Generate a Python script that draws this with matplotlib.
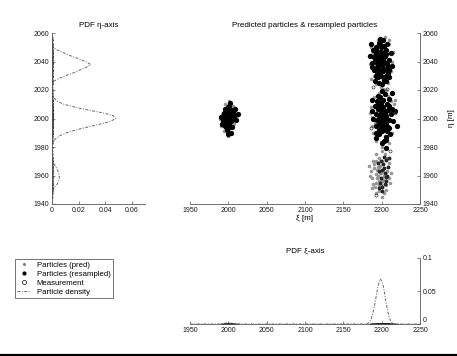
import matplotlib
matplotlib.use("Agg")
import matplotlib.pyplot as plt
from matplotlib.lines import Line2D

plt.rcParams['font.family'] = ['Liberation Sans', 'DejaVu Sans']
plt.rcParams['font.size'] = 5

# ---- particle clouds (xi, eta) in metres ----
res_A_xi  = [2000, 1997, 2003, 1999, 2002, 1995, 2005, 2000, 1998, 2003, 1994, 2006, 1997, 2001, 1999,
             2004, 1996, 2005, 2001, 1993, 2007, 1998, 2002, 2000, 1996, 2004, 2008, 1999, 2002,
             1991, 2010, 2012, 1992, 2009, 2001, 1997]
res_A_eta = [2000, 1998, 2002, 2005, 1995, 2001, 1999, 2008, 1992, 1990, 2004, 2004, 2003, 1997, 2002,
             2006, 1995, 1994, 2009, 1998, 2001, 1996, 2004, 1993, 2007, 1998, 2003, 1989, 2011,
             2001, 1999, 2003, 1996, 2007, 2001, 1994]

res_B_xi  = [2199, 2194, 2204, 2197, 2202, 2191, 2207, 2199, 2195, 2203, 2187, 2210, 2193, 2201, 2197,
             2205, 2190, 2208, 2196, 2202, 2189, 2212, 2194, 2204, 2199, 2185, 2213, 2195, 2203, 2192,
             2200, 2197, 2207, 2191, 2209, 2186, 2201, 2196, 2205, 2193, 2198, 2202, 2188, 2210, 2194,
             2200, 2206, 2192, 2197, 2203, 2190, 2208, 2196, 2201, 2199, 2204, 2193, 2198, 2206, 2200]
res_B_eta = [2040, 2036, 2044, 2047, 2033, 2042, 2038, 2050, 2029, 2027, 2039, 2041, 2045, 2037, 2043,
             2048, 2034, 2032, 2053, 2055, 2048, 2046, 2031, 2035, 2030, 2044, 2037, 2041, 2040, 2050,
             2046, 2034, 2052, 2026, 2029, 2052, 2024, 2038, 2030, 2048, 2056, 2042, 2036, 2034, 2039,
             2033, 2045, 2047, 2025, 2051, 2043, 2037, 2032, 2044, 2047, 2039, 2030, 2052, 2026, 2041]

res_C_xi  = [2201, 2196, 2206, 2199, 2204, 2193, 2209, 2201, 2197, 2205, 2189, 2212, 2195, 2203, 2199,
             2207, 2192, 2210, 2198, 2204, 2191, 2214, 2196, 2206, 2201, 2187, 2215, 2197, 2205, 2194,
             2202, 2199, 2209, 2193, 2211, 2188, 2203, 2198, 2207, 2195, 2217, 2220, 2214, 2205, 2200,
             2204, 2208, 2194, 2199, 2205, 2192, 2210, 2198, 2203, 2201, 2206, 2195, 2200, 2208, 2202]
res_C_eta = [2001, 1997, 2005, 2009, 1993, 2003, 1999, 2012, 1989, 1987, 2000, 2003, 2007, 1998, 2004,
             2010, 1995, 1993, 2015, 2017, 2009, 2007, 1992, 1996, 1991, 2005, 1998, 2002, 2001, 2012,
             2008, 1995, 2014, 1986, 1989, 2013, 1984, 1999, 1991, 2010, 2005, 1995, 2018, 1979, 2019,
             2003, 2006, 1999, 2011, 1985, 1990, 2009, 2001, 1996, 1983, 2002, 2016, 2007, 1994, 2013]

res_D_xi  = [2203, 2199, 2205, 2201, 2196, 2207, 2202, 2198, 2204, 2200, 2206, 2195, 2203, 2208, 2197,
             2205, 2201, 2209, 2199, 2204]
res_D_eta = [1965, 1958, 1971, 1952, 1963, 1960, 1968, 1955, 1962, 1949, 1956, 1969, 1973, 1966, 1951,
             1959, 1964, 1972, 1970, 1954]

pred_xi  = [1992, 2008, 1996, 2004, 1991, 2009, 2000, 2001, 1994, 2006, 1989, 2011,
            2186, 2190, 2210, 2213, 2185, 2195, 2204, 2192, 2208, 2199, 2188, 2212, 2194, 2202, 2197,
            2206, 2191, 2203, 2186, 2209, 2183, 2215,
            2188, 2190, 2212, 2214, 2186, 2196, 2206, 2193, 2209, 2200, 2189, 2216, 2194, 2204, 2198,
            2210, 2191, 2208, 2187, 2202, 2185, 2218,
            2190, 2193, 2196, 2199, 2202, 2205, 2188, 2192, 2195, 2198, 2201, 2204, 2207, 2210, 2189,
            2194, 2197, 2200, 2203, 2206, 2209, 2191, 2196, 2199, 2202, 2186, 2212, 2193, 2207, 2200,
            2185, 2190, 2194, 2197, 2201, 2188, 2192, 2196, 2211, 2184, 2203, 2195, 2198, 2193, 2189]
pred_eta = [2003, 1996, 2010, 1990, 1995, 2006, 1988, 2012, 1991, 2009, 2000, 2002,
            2050, 2030, 2052, 2040, 2038, 2055, 2057, 2024, 2025, 2022, 2045, 2033, 2034, 2049, 2043,
            2043, 2043, 2026, 2028, 2055, 2044, 2047,
            1995, 2015, 2012, 1990, 2008, 2018, 2020, 1984, 1983, 1980, 1990, 2010, 2006, 1988, 2006,
            2000, 1997, 2016, 2001, 2021, 2004, 2013,
            1965, 1955, 1972, 1962, 1957, 1950, 1958, 1948, 1960, 1967, 1945, 1975, 1963, 1969, 1970,
            1964, 1956, 1970, 1960, 1953, 1958, 1952, 1949, 1953, 1964, 1963, 1962, 1975, 1972, 1977,
            1960, 1968, 1958, 1966, 1956, 1951, 1961, 1953, 1955, 1967, 1948, 1966, 1962, 1970, 1954]

meas_xi  = [2214, 2189, 2217, 2207, 2186, 2193, 2211]
meas_eta = [2046, 2022, 2004, 2021, 1993, 1946, 1977]

# ---- marginal densities ----
eta_grid = list(range(1940, 2061, 2))
eta_pdf = [0, 0, 0, 0, 0, 0.001, 0.002, 0.004, 0.005, 0.0055, 0.0055, 0.005, 0.004, 0.003, 0.0015,
           0.0005, 0, 0, 0, 0, 0, 0, 0.001, 0.003, 0.006, 0.011, 0.018, 0.027, 0.036, 0.044,
           0.048, 0.046, 0.038, 0.027, 0.017, 0.009, 0.004, 0.002, 0.001, 0, 0, 0, 0,
           0.001, 0.005, 0.010, 0.016, 0.021, 0.026, 0.029, 0.025, 0.020, 0.014, 0.009, 0.004, 0.001,
           0, 0, 0, 0, 0]

xi_grid = [1950, 1990, 2000, 2010, 2180, 2182, 2184, 2186, 2188, 2190, 2192, 2194, 2196, 2198, 2200,
           2202, 2204, 2206, 2208, 2210, 2212, 2214, 2216, 2218, 2250]
xi_pdf = [0, 0, 0.002, 0, 0, 0.001, 0.003, 0.007, 0.014, 0.024, 0.036, 0.050, 0.061, 0.068, 0.066,
          0.058, 0.045, 0.031, 0.019, 0.010, 0.004, 0.0015, 0.0005, 0, 0]

all_res_xi = res_A_xi + res_B_xi + res_C_xi + res_D_xi
all_res_eta = res_A_eta + res_B_eta + res_C_eta + res_D_eta

W, H = 457, 356
fig = plt.figure(figsize=(W / 100, H / 100), dpi=100)

def frac(x0, y_top, x1, y_bot):
    return [x0 / W, 1 - y_bot / H, (x1 - x0) / W, (y_bot - y_top) / H]

pdf_style = dict(color='0.4', lw=0.7, ls=(0, (3, 1.5, 1, 1.5)))
spine_col = '0.35'
title_fs = 5.8

# eta marginal
ax_l = fig.add_axes(frac(52, 33, 145, 204))
ax_l.plot(eta_pdf, eta_grid, **pdf_style)
ax_l.plot([0] * len(all_res_eta + pred_eta), all_res_eta + pred_eta, ls='none',
          marker='s', ms=1.2, mfc='0.15', mec='none')
ax_l.set_xlim(0, 0.07)
ax_l.set_ylim(1940, 2060)
ax_l.set_xticks([0, 0.02, 0.04, 0.06])
ax_l.set_xticklabels(['0', '0.02', '0.04', '0.06'])
ax_l.set_yticks(range(1940, 2061, 20))
ax_l.set_title('PDF η-axis', fontsize=title_fs, pad=4)

# main particle cloud
ax_m = fig.add_axes(frac(190, 33, 420, 204))
ax_m.plot(pred_xi, pred_eta, ls='none', marker='o', ms=2.6, mfc='0.55', mec='none', alpha=0.9)
ax_m.plot(res_A_xi + res_B_xi + res_C_xi, res_A_eta + res_B_eta + res_C_eta, ls='none',
          marker='o', ms=3.8, mfc='black', mec='none')
ax_m.plot(res_D_xi, res_D_eta, ls='none', marker='o', ms=2.8, mfc='0.15', mec='none')
ax_m.plot(meas_xi, meas_eta, ls='none', marker='o', ms=2.2, mfc='none', mec='0.2', mew=0.5)
ax_m.set_xlim(1950, 2250)
ax_m.set_ylim(1940, 2060)
ax_m.set_xticks(range(1950, 2251, 50))
ax_m.set_yticks(range(1940, 2061, 20))
ax_m.yaxis.tick_right()
ax_m.yaxis.set_label_position('right')
ax_m.set_xlabel('ξ [m]', fontsize=title_fs, labelpad=1)
ax_m.set_ylabel('η [m]', fontsize=title_fs, labelpad=7)
ax_m.set_title('Predicted particles & resampled particles', fontsize=title_fs, pad=4)

# xi marginal
ax_b = fig.add_axes(frac(190, 258, 420, 324))
ax_b.plot(xi_grid, xi_pdf, **pdf_style)
ax_b.plot(all_res_xi, [0] * len(all_res_xi), ls='none', marker='s', ms=1.2, mfc='0.15', mec='none')
ax_b.set_xlim(1950, 2250)
ax_b.set_ylim(0, 0.1)
ax_b.set_xticks(range(1950, 2251, 50))
ax_b.set_yticks([0, 0.05, 0.1])
ax_b.set_yticklabels(['0', '0.05', '0.1'])
ax_b.yaxis.tick_right()
ax_b.set_title('PDF ξ-axis', fontsize=title_fs, pad=4)

for ax, keep in ((ax_l, ('left', 'bottom')), (ax_m, ('right', 'bottom')), (ax_b, ('right', 'bottom'))):
    for name, sp in ax.spines.items():
        sp.set_visible(name in keep)
        sp.set_color(spine_col)
        sp.set_linewidth(0.6)
    ax.tick_params(direction='in', length=2, width=0.5, colors=spine_col, labelcolor='0.1',
                   labelsize=5, pad=2)
    ax.patch.set_alpha(0)

# lift the zero label so it clears the 2250 tick label below it
ax_b.get_yticklabels()[0].set_verticalalignment('bottom')

handles = [
    Line2D([], [], ls='none', marker='.', ms=2.5, color='0.5'),
    Line2D([], [], ls='none', marker='.', ms=4, color='black'),
    Line2D([], [], ls='none', marker='o', ms=3, mfc='none', mec='0.2', mew=0.6),
    Line2D([], [], **pdf_style),
]
labels = ['Particles (pred)', 'Particles (resampled)', 'Measurement', 'Particle density']
leg = fig.legend(handles, labels, loc='upper left', bbox_to_anchor=(15 / W, 1 - 259 / H),
                 fontsize=5.6, frameon=True, fancybox=False, borderpad=0.3, labelspacing=0.2,
                 handlelength=1.6, handletextpad=0.9, borderaxespad=0)
leg.get_frame().set_edgecolor('0.2')
leg.get_frame().set_linewidth(0.6)

# page rule along the bottom edge
fig.add_artist(Line2D([0, 1], [1 - 354.5 / H, 1 - 354.5 / H], color='black', lw=1.6,
                      transform=fig.transFigure))

fig.savefig('out.png', dpi=100)
